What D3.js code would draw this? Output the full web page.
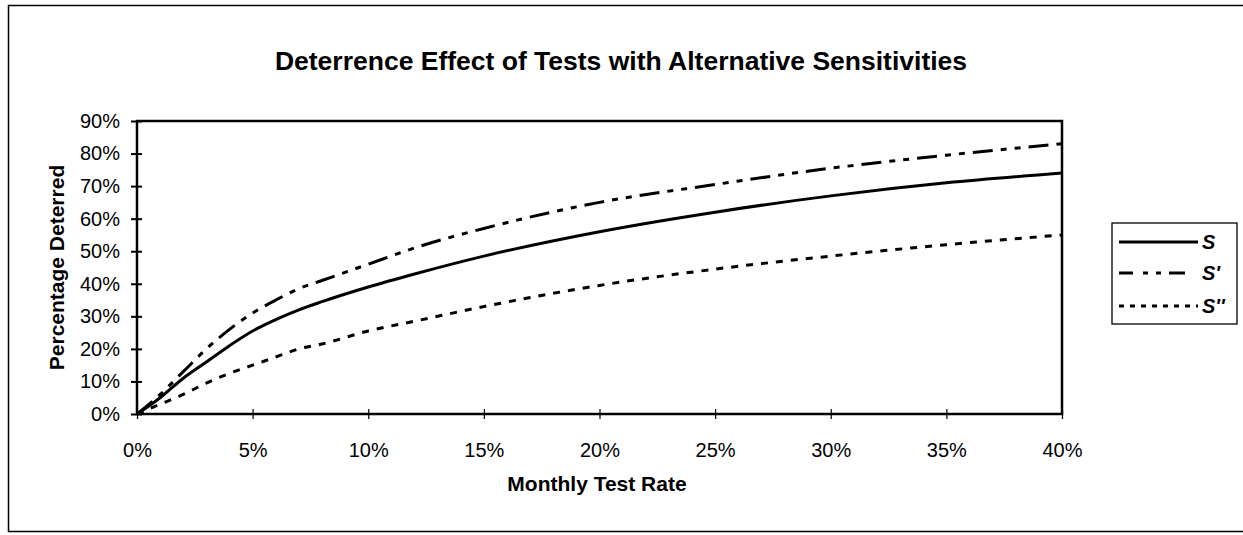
<!DOCTYPE html>
<html>
<head>
<meta charset="utf-8">
<script src="https://cdn.jsdelivr.net/npm/d3@7"></script>
<style>
  body { margin: 0; background: #fff; }
  text { font-family: "Liberation Sans", Arial, sans-serif; fill: #000; }
</style>
</head>
<body>
<svg id="chart" width="1243" height="535"></svg>
<script>
// monthly test rate (fraction) and percentage deterred per series
const testRates = [0, 0.01, 0.02, 0.03, 0.04, 0.05, 0.06, 0.07, 0.08, 0.10, 0.12, 0.15, 0.20, 0.25, 0.30, 0.35, 0.40];
const sValues   = [0, 0.05, 0.11, 0.16, 0.21, 0.255, 0.29, 0.32, 0.345, 0.39, 0.43, 0.485, 0.56, 0.62, 0.67, 0.71, 0.74];
const s1Values  = [0, 0.06, 0.13, 0.20, 0.26, 0.31, 0.35, 0.385, 0.41, 0.46, 0.51, 0.57, 0.65, 0.705, 0.755, 0.795, 0.83];
const s2Values  = [0, 0.03, 0.06, 0.095, 0.125, 0.15, 0.175, 0.20, 0.215, 0.255, 0.285, 0.33, 0.395, 0.445, 0.485, 0.52, 0.55];
const seriesNames = ['S', "S'", "S''"];
const xTicks = [0, 0.05, 0.10, 0.15, 0.20, 0.25, 0.30, 0.35, 0.40];
const yTicks = [0, 0.1, 0.2, 0.3, 0.4, 0.5, 0.6, 0.7, 0.8, 0.9];

const dashes = ['none', '20,8,6,8,6,8', '7,8'];

let svg = d3.select('#chart');

// outer chart frame
svg.append('rect')
	.attr('x', 8.5).attr('y', 5.5)
	.attr('width', 1260).attr('height', 526)
	.attr('fill', 'none')
	.attr('stroke', '#000')
	.attr('stroke-width', 1.5);

let plot = {left: 137, right: 1062, top: 121, bottom: 414};

let x = d3.scaleLinear().domain([0, 0.4]).range([plot.left, plot.right]);
let y = d3.scaleLinear().domain([0, 0.9]).range([plot.bottom, plot.top]);

// title
svg.append('text')
	.attr('x', 621).attr('y', 70)
	.attr('text-anchor', 'middle')
	.style('font-size', '26.5px')
	.style('font-weight', 'bold')
	.text('Deterrence Effect of Tests with Alternative Sensitivities');

// plot frame
svg.append('rect')
	.attr('x', plot.left).attr('y', plot.top)
	.attr('width', plot.right - plot.left).attr('height', plot.bottom - plot.top)
	.attr('fill', 'none')
	.attr('stroke', '#000')
	.attr('stroke-width', 2.5);

// axes
let xAxis = d3.axisBottom(x)
	.tickValues(xTicks)
	.tickSize(5)
	.tickPadding(24)
	.tickFormat(d3.format('.0%'));
let gx = svg.append('g')
	.attr('transform', `translate(0,${plot.bottom})`)
	.call(xAxis);
gx.select('.domain').remove();
gx.selectAll('.tick line').attr('y1', -5).attr('stroke-width', 1.2);
gx.selectAll('.tick text')
	.style('font-size', '20px')
	.style('font-family', '"Liberation Sans", Arial, sans-serif')
	.attr('fill', '#000');

let yAxis = d3.axisLeft(y)
	.tickValues(yTicks)
	.tickSize(6)
	.tickPadding(11)
	.tickFormat(d3.format('.0%'));
let gy = svg.append('g')
	.attr('transform', `translate(${plot.left},0)`)
	.call(yAxis);
gy.select('.domain').remove();
gy.selectAll('.tick line').attr('x1', 5).attr('x2', -6).attr('stroke-width', 2);
gy.selectAll('.tick text')
	.style('font-size', '20px')
	.style('font-family', '"Liberation Sans", Arial, sans-serif')
	.attr('fill', '#000');

// axis titles
svg.append('text')
	.attr('x', 597).attr('y', 491)
	.attr('text-anchor', 'middle')
	.style('font-size', '21px')
	.style('font-weight', 'bold')
	.text('Monthly Test Rate');

svg.append('text')
	.attr('transform', `translate(64,${(plot.top + plot.bottom) / 2}) rotate(-90)`)
	.attr('text-anchor', 'middle')
	.style('font-size', '21px')
	.style('font-weight', 'bold')
	.text('Percentage Deterred');

// lines
let line = d3.line()
	.x((d, i) => x(testRates[i]))
	.y(d => y(d))
	.curve(d3.curveMonotoneX);

[sValues, s1Values, s2Values].forEach(function(vals, k) {
	svg.append('path')
		.datum(vals)
		.attr('d', line)
		.attr('fill', 'none')
		.attr('stroke', '#000')
		.attr('stroke-width', 3)
		.attr('stroke-dasharray', dashes[k]);
});

// legend
let legend = svg.append('g');
legend.append('rect')
	.attr('x', 1112).attr('y', 223)
	.attr('width', 125).attr('height', 101)
	.attr('fill', '#fff')
	.attr('stroke', '#000')
	.attr('stroke-width', 1.3);

let legendY = [242, 273, 306];
let legendDash = ['none', '14,10,5,8,5,8,16', '5,6'];
seriesNames.forEach(function(name, k) {
	legend.append('line')
		.attr('x1', 1119).attr('x2', 1198)
		.attr('y1', legendY[k]).attr('y2', legendY[k])
		.attr('stroke', '#000')
		.attr('stroke-width', 3)
		.attr('stroke-dasharray', legendDash[k]);
	legend.append('text')
		.attr('x', 1202).attr('y', legendY[k] + 7)
		.style('font-size', '20px')
		.style('font-weight', 'bold')
		.style('font-style', 'italic')
		.text(name);
});
</script>
</body>
</html>
